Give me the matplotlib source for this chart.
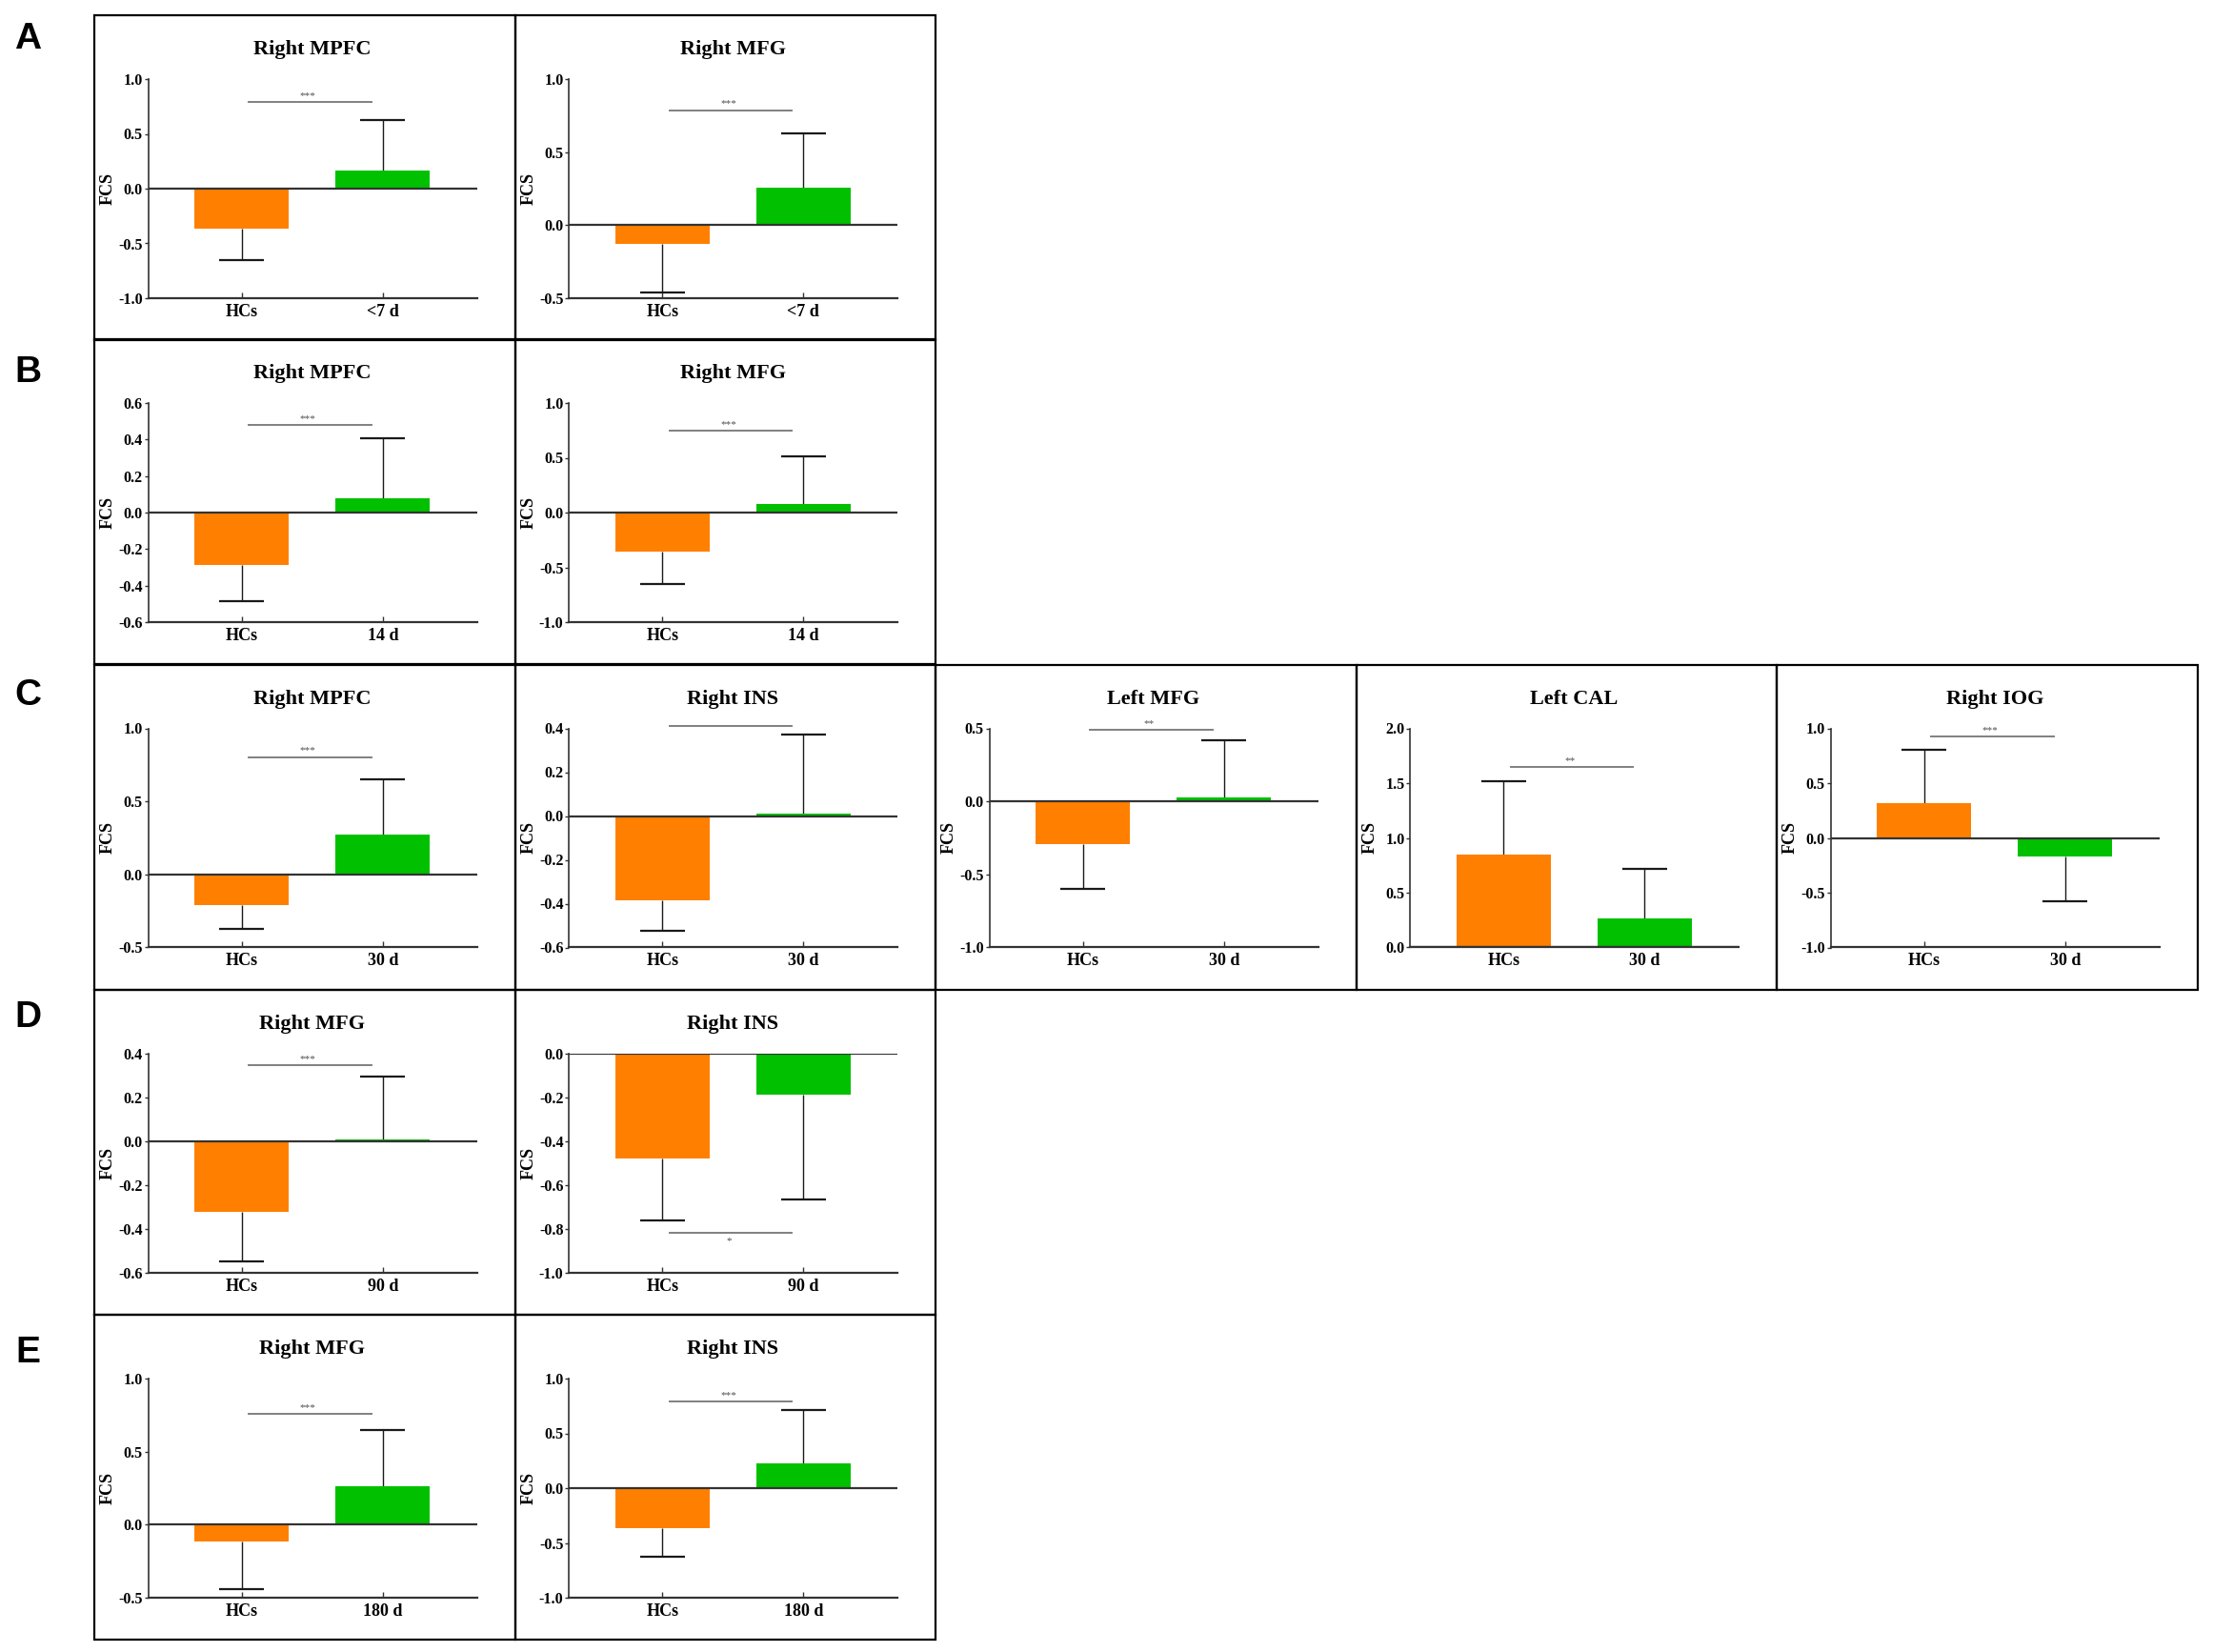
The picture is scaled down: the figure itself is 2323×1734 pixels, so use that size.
import numpy as np
import matplotlib
matplotlib.use('Agg')
import matplotlib.pyplot as plt
from matplotlib.patches import Rectangle
from matplotlib.ticker import MultipleLocator, FormatStrFormatter

plt.rcParams['font.family'] = ['Liberation Serif', 'DejaVu Serif']
plt.rcParams['font.weight'] = 'bold'
plt.rcParams['axes.unicode_minus'] = False

# one entry per panel, in reading order (A1, A2, B1, B2, C1..C5, D1, D2, E1, E2)
titles = ['Right MPFC', 'Right MFG',
          'Right MPFC', 'Right MFG',
          'Right MPFC', 'Right INS', 'Left MFG', 'Left CAL', 'Right IOG',
          'Right MFG', 'Right INS',
          'Right MFG', 'Right INS']
patient_labels = ['<7 d', '<7 d', '14 d', '14 d',
                  '30 d', '30 d', '30 d', '30 d', '30 d',
                  '90 d', '90 d', '180 d', '180 d']
hc_mean = [-0.366, -0.129, -0.285, -0.354, -0.207, -0.383, -0.292, 0.851, 0.319,
           -0.323, -0.480, -0.113, -0.369]
hc_sd = [0.285, 0.329, 0.202, 0.301, 0.167, 0.142, 0.305, 0.666, 0.488,
         0.224, 0.283, 0.327, 0.258]
pt_mean = [0.166, 0.257, 0.080, 0.075, 0.270, 0.010, 0.026, 0.264, -0.171,
           0.007, -0.185, 0.264, 0.226]
pt_sd = [0.456, 0.369, 0.327, 0.438, 0.378, 0.362, 0.394, 0.452, 0.404,
         0.288, 0.479, 0.381, 0.488]
sig_y = [0.79, 0.787, 0.48, 0.748, 0.804, 0.412, 0.49, 1.649, 0.923,
         0.346, -0.819, 0.756, 0.787]
sig_text = ['***', '***', '***', '***', '***', '***', '**', '**', '***',
            '***', '*', '***', '***']
y_min = [-1.0, -0.5, -0.6, -1.0, -0.5, -0.6, -1.0, 0.0, -1.0, -0.6, -1.0, -0.5, -1.0]
y_max = [1.0, 1.0, 0.6, 1.0, 1.0, 0.4, 0.5, 2.0, 1.0, 0.4, 0.0, 1.0, 1.0]
y_step = [0.5, 0.5, 0.2, 0.5, 0.5, 0.2, 0.5, 0.5, 0.5, 0.2, 0.2, 0.5, 0.5]

panel_row = [0, 0, 1, 1, 2, 2, 2, 2, 2, 3, 3, 4, 4]
panel_col = [0, 1, 0, 1, 0, 1, 2, 3, 4, 0, 1, 0, 1]
row_letters = ['A', 'B', 'C', 'D', 'E']

ORANGE = '#FF8000'
GREEN = '#00C000'

W, H = 2323, 1734
col_left = [99, 540.5, 982, 1423.5, 1865]
col_w = 441.5
row_top = [16, 356, 697.5, 1039, 1380]
row_h = 341
letter_y = [41, 391, 730, 1068, 1420]


def fig_rect(x, y, w, h):
    return [x / W, 1 - (y + h) / H, w / W, h / H]


fig = plt.figure(figsize=(W / 100, H / 100), dpi=100)

for i in range(len(titles)):
    bx = col_left[panel_col[i]]
    by = row_top[panel_row[i]]
    fig.add_artist(Rectangle((bx / W, 1 - (by + row_h) / H), col_w / W, row_h / H,
                             transform=fig.transFigure, fill=False,
                             edgecolor='black', lw=1.6))

    ax = fig.add_axes(fig_rect(bx + 56.5, by + 67, 345, 230))
    x = np.array([0, 1])
    means = np.array([hc_mean[i], pt_mean[i]])
    sds = np.array([hc_sd[i], pt_sd[i]])
    ends = means + np.sign(means) * sds

    ax.bar(x, means, width=0.67, color=[ORANGE, GREEN], zorder=2)
    ax.vlines(x, means, ends, color='#1a1a1a', lw=1.0, zorder=1)
    ax.hlines(ends, x - 0.16, x + 0.16, color='#1a1a1a', lw=1.6, zorder=3)
    ax.axhline(0, color='#333333', lw=1.6, zorder=4)

    # significance bar
    ax.plot([0.05, 0.92], [sig_y[i], sig_y[i]], color='#808080', lw=1.4,
            clip_on=False, zorder=3)
    if sig_y[i] < 0:
        ax.annotate(sig_text[i], (0.47, sig_y[i]), xytext=(0, -3),
                    textcoords='offset points', ha='center', va='top',
                    fontsize=8, color='#505050', fontweight='normal')
    else:
        ax.annotate(sig_text[i], (0.47, sig_y[i]), xytext=(0, 1.5),
                    textcoords='offset points', ha='center', va='bottom',
                    fontsize=8, color='#505050', fontweight='normal')

    ax.set_xlim(-0.664, 1.667)
    ax.set_ylim(y_min[i], y_max[i])
    ax.yaxis.set_major_locator(MultipleLocator(y_step[i]))
    ax.yaxis.set_major_formatter(FormatStrFormatter('%.1f'))
    ax.set_xticks(x)
    ax.set_xticklabels(['HCs', patient_labels[i]])

    for side in ['top', 'right']:
        ax.spines[side].set_visible(False)
    for side in ['left', 'bottom']:
        ax.spines[side].set_color('#333333')
        ax.spines[side].set_linewidth(1.6)
    ax.spines['left'].set_linewidth(1.2)

    ax.tick_params(axis='y', direction='out', length=3, width=1.0, pad=1,
                   labelsize=11.5, color='#333333')
    ax.tick_params(axis='x', direction='in', length=4, width=1.0, pad=4,
                   labelsize=13, color='#333333')
    for lab in ax.get_xticklabels() + ax.get_yticklabels():
        lab.set_fontweight('bold')

    ax.set_title(titles[i], fontsize=16, fontweight='bold', pad=18.5)
    ax.set_ylabel('FCS', fontsize=13, fontweight='bold')
    ax.yaxis.set_label_coords(-0.098, 0.5)
    ax.patch.set_visible(False)

for r, letter in enumerate(row_letters):
    fig.text(29.5 / W, 1 - letter_y[r] / H, letter, ha='center', va='center',
             fontsize=28, fontweight='bold', family='Liberation Sans')

fig.savefig('out.png', dpi=100)
